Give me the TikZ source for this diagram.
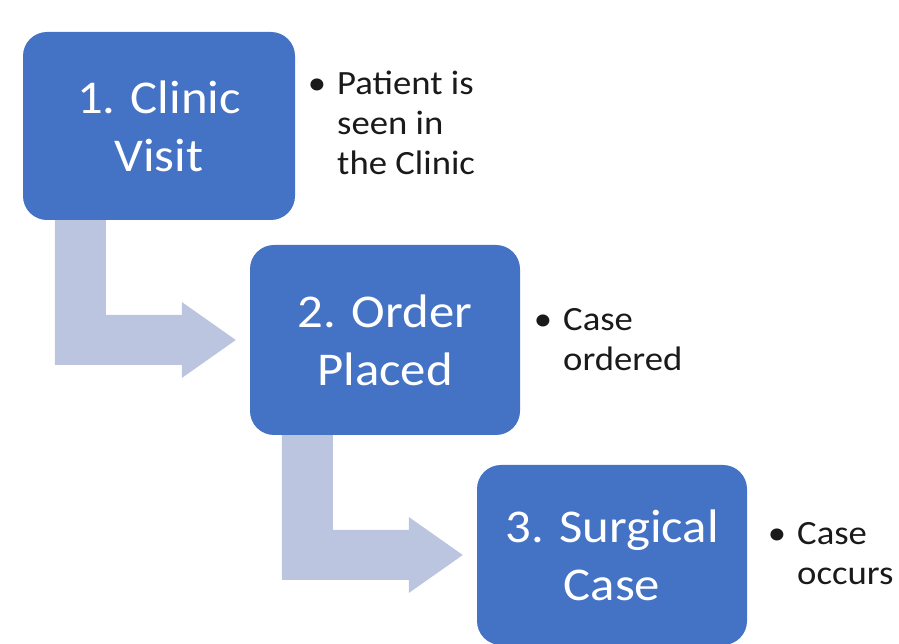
\documentclass[tikz,border=0pt]{standalone}
\usepackage{fontspec}
\setmainfont{Carlito}[FakeStretch=1.08]
\usepackage{tikz}
\usetikzlibrary{calc,positioning}
\usepackage{xcolor}

\definecolor{boxblue}{HTML}{4472C4}
\definecolor{flowblue}{HTML}{BCC5E0}
\definecolor{notegray}{HTML}{1A1A1A}

\tikzset{
  stepbox/.style={fill=boxblue,text=white,rounded corners=24pt,inner sep=0pt,
    align=center,font=\fontsize{47}{58}\selectfont},
  flow/.style={fill=flowblue},
  note/.style={anchor=base west,align=left,inner sep=0pt,text=notegray,
    font=\fontsize{34}{40}\selectfont}
}

% bullet hanging left of the first line
\newcommand{\bul}{\llap{\textbullet\hspace{11pt}}}

% bent block arrow from the bottom of one step to the left side of the next
\newcommand{\flowarrow}[2]{%
  \fill[flow] let \p1=(#1.south west), \p2=(#2.west) in
    (\x1+32,\y1) -- (\x1+83,\y1) -- (\x1+83,\y2+25) -- (\x2-68,\y2+25)
    -- (\x2-68,\y2+38) -- (\x2-14,\y2) -- (\x2-68,\y2-38) -- (\x2-68,\y2-25)
    -- (\x1+32,\y2-25) -- cycle;}

\begin{document}
\begin{tikzpicture}[x=1pt,y=1pt]
    \useasboundingbox (0,0) rectangle (899,644);

    % Steps
    \node[stepbox,minimum width=272pt,minimum height=188pt] (clinic) at (159,518) {1. Clinic\\Visit};
    \node[stepbox,minimum width=270pt,minimum height=190pt] (order) at (385,304) {2. Order\\Placed};
    \node[stepbox,minimum width=270pt,minimum height=180pt] (surgery) at (612,89) {3. Surgical\\Case};

    % Arrows between steps
    \flowarrow{clinic}{order}
    \flowarrow{order}{surgery}

    % Notes (base = last line)
    \node[note] (clinicnote) at (337,469) {\bul Patient is\\seen in\\the Clinic};
    \node[note] (ordernote) at (563,273) {\bul Case\\ordered};
    \node[note] (surgerynote) at (797,59) {\bul Case\\occurs};
\end{tikzpicture}
\end{document}
